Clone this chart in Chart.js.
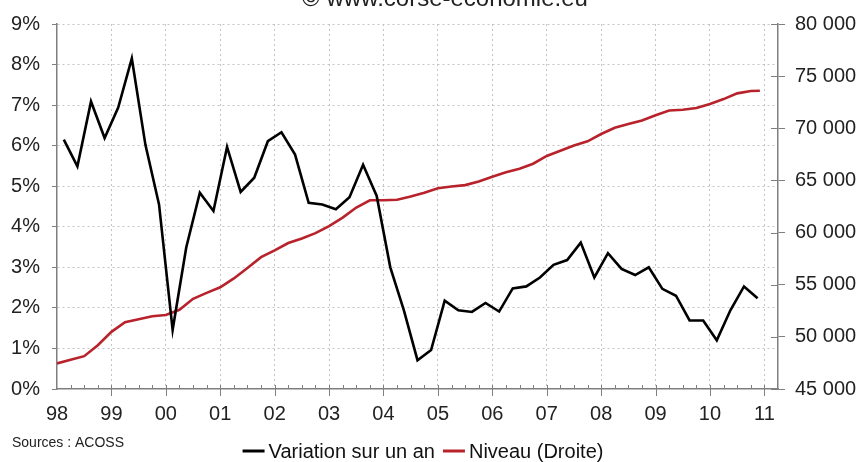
<!DOCTYPE html>
<html lang="fr">
<head>
  <meta charset="UTF-8">
  <title>Variation sur un an / Niveau</title>
  <script src="https://cdn.jsdelivr.net/npm/chart.js"></script>
  <style>
    body { margin: 0; background: #fff; }
    #wrap { position: relative; width: 861px; height: 462px; }
  </style>
</head>
<body>

<div id="wrap">
  <canvas id="chart"></canvas>
</div>

<script>
// tick labels of the x axis (years)
const annees = ['98', '99', '00', '01', '02', '03', '04', '05', '06', '07', '08', '09', '10', '11'];

// year-on-year change, quarterly, 1998 T1 .. 2010 T4 (%)
const variation = [
  6.15, 5.49, 7.09, 6.19,
  6.94, 8.15, 6.02, 4.55,
  1.46, 3.49, 4.84, 4.39,
  5.97, 4.86, 5.21, 6.11,
  6.33, 5.78, 4.59, 4.55,
  4.43, 4.73, 5.53, 4.76,
  3.00, 1.94, 0.71, 0.96,
  2.18, 1.94, 1.90, 2.12,
  1.91, 2.48, 2.53, 2.75,
  3.06, 3.18, 3.61, 2.75,
  3.35, 2.96, 2.81, 3.00,
  2.47, 2.30, 1.69, 1.69,
  1.20, 1.94, 2.53, 2.24
];

// level (right axis), start of each quarter 1998-01 .. 2010-10, then 2010-12
const niveau = [
  47450, 47800, 48150, 49200,
  50480, 51400, 51680, 51970,
  52100, 52600, 53650, 54220,
  54750, 55600, 56600, 57640,
  58300, 59000, 59430, 59950,
  60620, 61430, 62400, 63100,
  63100, 63150, 63450, 63820,
  64250, 64410, 64550, 64900,
  65360, 65780, 66120, 66600,
  67350, 67850, 68350, 68750,
  69450, 70050, 70400, 70750,
  71250, 71700, 71770, 71950,
  72330, 72800, 73350, 73580,
  73600
];

const FONT = "'Liberation Sans', Arial, sans-serif";
const GRID = '#c4c4c4';
const AXIS = '#7f7f7f';

// dates -> decimal years
const varPoints = variation.map((v, i) => ({ x: 1998 + Math.floor(i / 4) + ((i % 4) + 0.5) / 4, y: v }));
const nivPoints = niveau.map((v, i) => {
  const mois = i < 52 ? i * 3 : 155;
  return { x: 1998 + mois / 12, y: v };
});

function isYear(v) { return Math.abs(v - Math.round(v)) < 1e-6; }

const decor = {
  id: 'decor',
  afterDraw(chart) {
    const ctx = chart.ctx;
    const xs = chart.scales.x;
    const yb = chart.scales.y.bottom;
    ctx.save();

    // small inner ticks on the x axis (quarters)
    ctx.strokeStyle = AXIS;
    ctx.lineWidth = 1;
    for (let t = 1998.25; t < 2011.25; t += 0.25) {
      const px = Math.round(xs.getPixelForValue(t)) + 0.5;
      ctx.beginPath();
      ctx.moveTo(px, yb - 4);
      ctx.lineTo(px, yb + (isYear(t) ? 7 : 0));
      ctx.stroke();
    }
    // inner part of the right axis ticks
    const yr = chart.scales.y1;
    yr.ticks.forEach(tk => {
      const py = Math.round(yr.getPixelForValue(tk.value)) + 0.5;
      ctx.beginPath();
      ctx.moveTo(yr.left - 7, py);
      ctx.lineTo(yr.left, py);
      ctx.stroke();
    });

    // title cut at the top
    ctx.fillStyle = '#222';
    ctx.font = '24px ' + FONT;
    ctx.textAlign = 'center';
    ctx.textBaseline = 'alphabetic';
    ctx.fillText('© www.corse-economie.eu', 445, 6);

    // source
    ctx.font = '14px ' + FONT;
    ctx.textAlign = 'left';
    ctx.textBaseline = 'middle';
    ctx.fillText('Sources : ACOSS', 12, 443);

    // legend
    ctx.font = '20px ' + FONT;
    const ds = chart.data.datasets;
    const widths = ds.map(d => 26 + ctx.measureText(d.label).width);
    const gap = 8;
    const total = widths.reduce((a, b) => a + b, 0) + gap;
    let x = 423 - total / 2;
    const ly = 451;
    ds.forEach((d, i) => {
      ctx.strokeStyle = d.borderColor;
      ctx.lineWidth = 3;
      ctx.beginPath();
      ctx.moveTo(x, ly);
      ctx.lineTo(x + 22, ly);
      ctx.stroke();
      ctx.fillStyle = '#111';
      ctx.fillText(d.label, x + 26, ly + 1);
      x += widths[i] + gap;
    });
    ctx.restore();
  }
};

new Chart(document.getElementById('chart'), {
  type: 'line',
  data: {
    datasets: [
      { label: 'Variation sur un an', data: varPoints, yAxisID: 'y',
        borderColor: '#000000', borderWidth: 2.6, pointRadius: 0, tension: 0 },
      { label: 'Niveau (Droite)', data: nivPoints, yAxisID: 'y1',
        borderColor: '#b8232b', borderWidth: 2.6, pointRadius: 0, tension: 0 }
    ]
  },
  options: {
    responsive: true,
    maintainAspectRatio: false,
    animation: false,
    layout: { padding: { top: 22, left: 0, right: 0, bottom: 0 } },
    plugins: {
      legend: { display: false },
      tooltip: { enabled: false }
    },
    scales: {
      x: {
        type: 'linear',
        min: 1998,
        max: 2011.25,
        afterFit(s) { s.height = 73; },
        ticks: {
          stepSize: 0.25,
          autoSkip: false,
          maxRotation: 0,
          padding: 7,
          color: '#222',
          font: { family: FONT, size: 20 },
          callback: v => isYear(v) ? (annees[Math.round(v) - 1998] || '') : ''
        },
        grid: {
          color: c => (isYear(c.tick.value) && c.tick.value > 1998.5) ? GRID : 'transparent',
          tickColor: 'transparent',
          tickLength: 6,
          lineWidth: 1
        },
        border: { display: true, color: AXIS, width: 1.5, dash: [2, 3] }
      },
      y: {
        position: 'left',
        min: 0,
        max: 9,
        afterFit(s) { s.width = 57; },
        ticks: {
          stepSize: 1,
          padding: 12,
          color: '#222',
          font: { family: FONT, size: 20 },
          callback: v => v + '%'
        },
        grid: {
          color: c => c.tick.value > 0 ? GRID : 'transparent',
          tickColor: AXIS,
          tickLength: 5,
          lineWidth: 1
        },
        border: { display: true, color: AXIS, width: 1.5, dash: [2, 3] }
      },
      y1: {
        position: 'right',
        min: 45000,
        max: 80000,
        afterFit(s) { s.width = 83; },
        ticks: {
          stepSize: 5000,
          padding: 10,
          color: '#222',
          font: { family: FONT, size: 20 },
          callback: v => String(v).replace(/\B(?=(\d{3})+(?!\d))/g, ' ')
        },
        grid: {
          drawOnChartArea: false,
          tickColor: AXIS,
          tickLength: 7
        },
        border: { display: true, color: AXIS, width: 1.5 }
      }
    }
  },
  plugins: [decor]
});
</script>

</body>
</html>
